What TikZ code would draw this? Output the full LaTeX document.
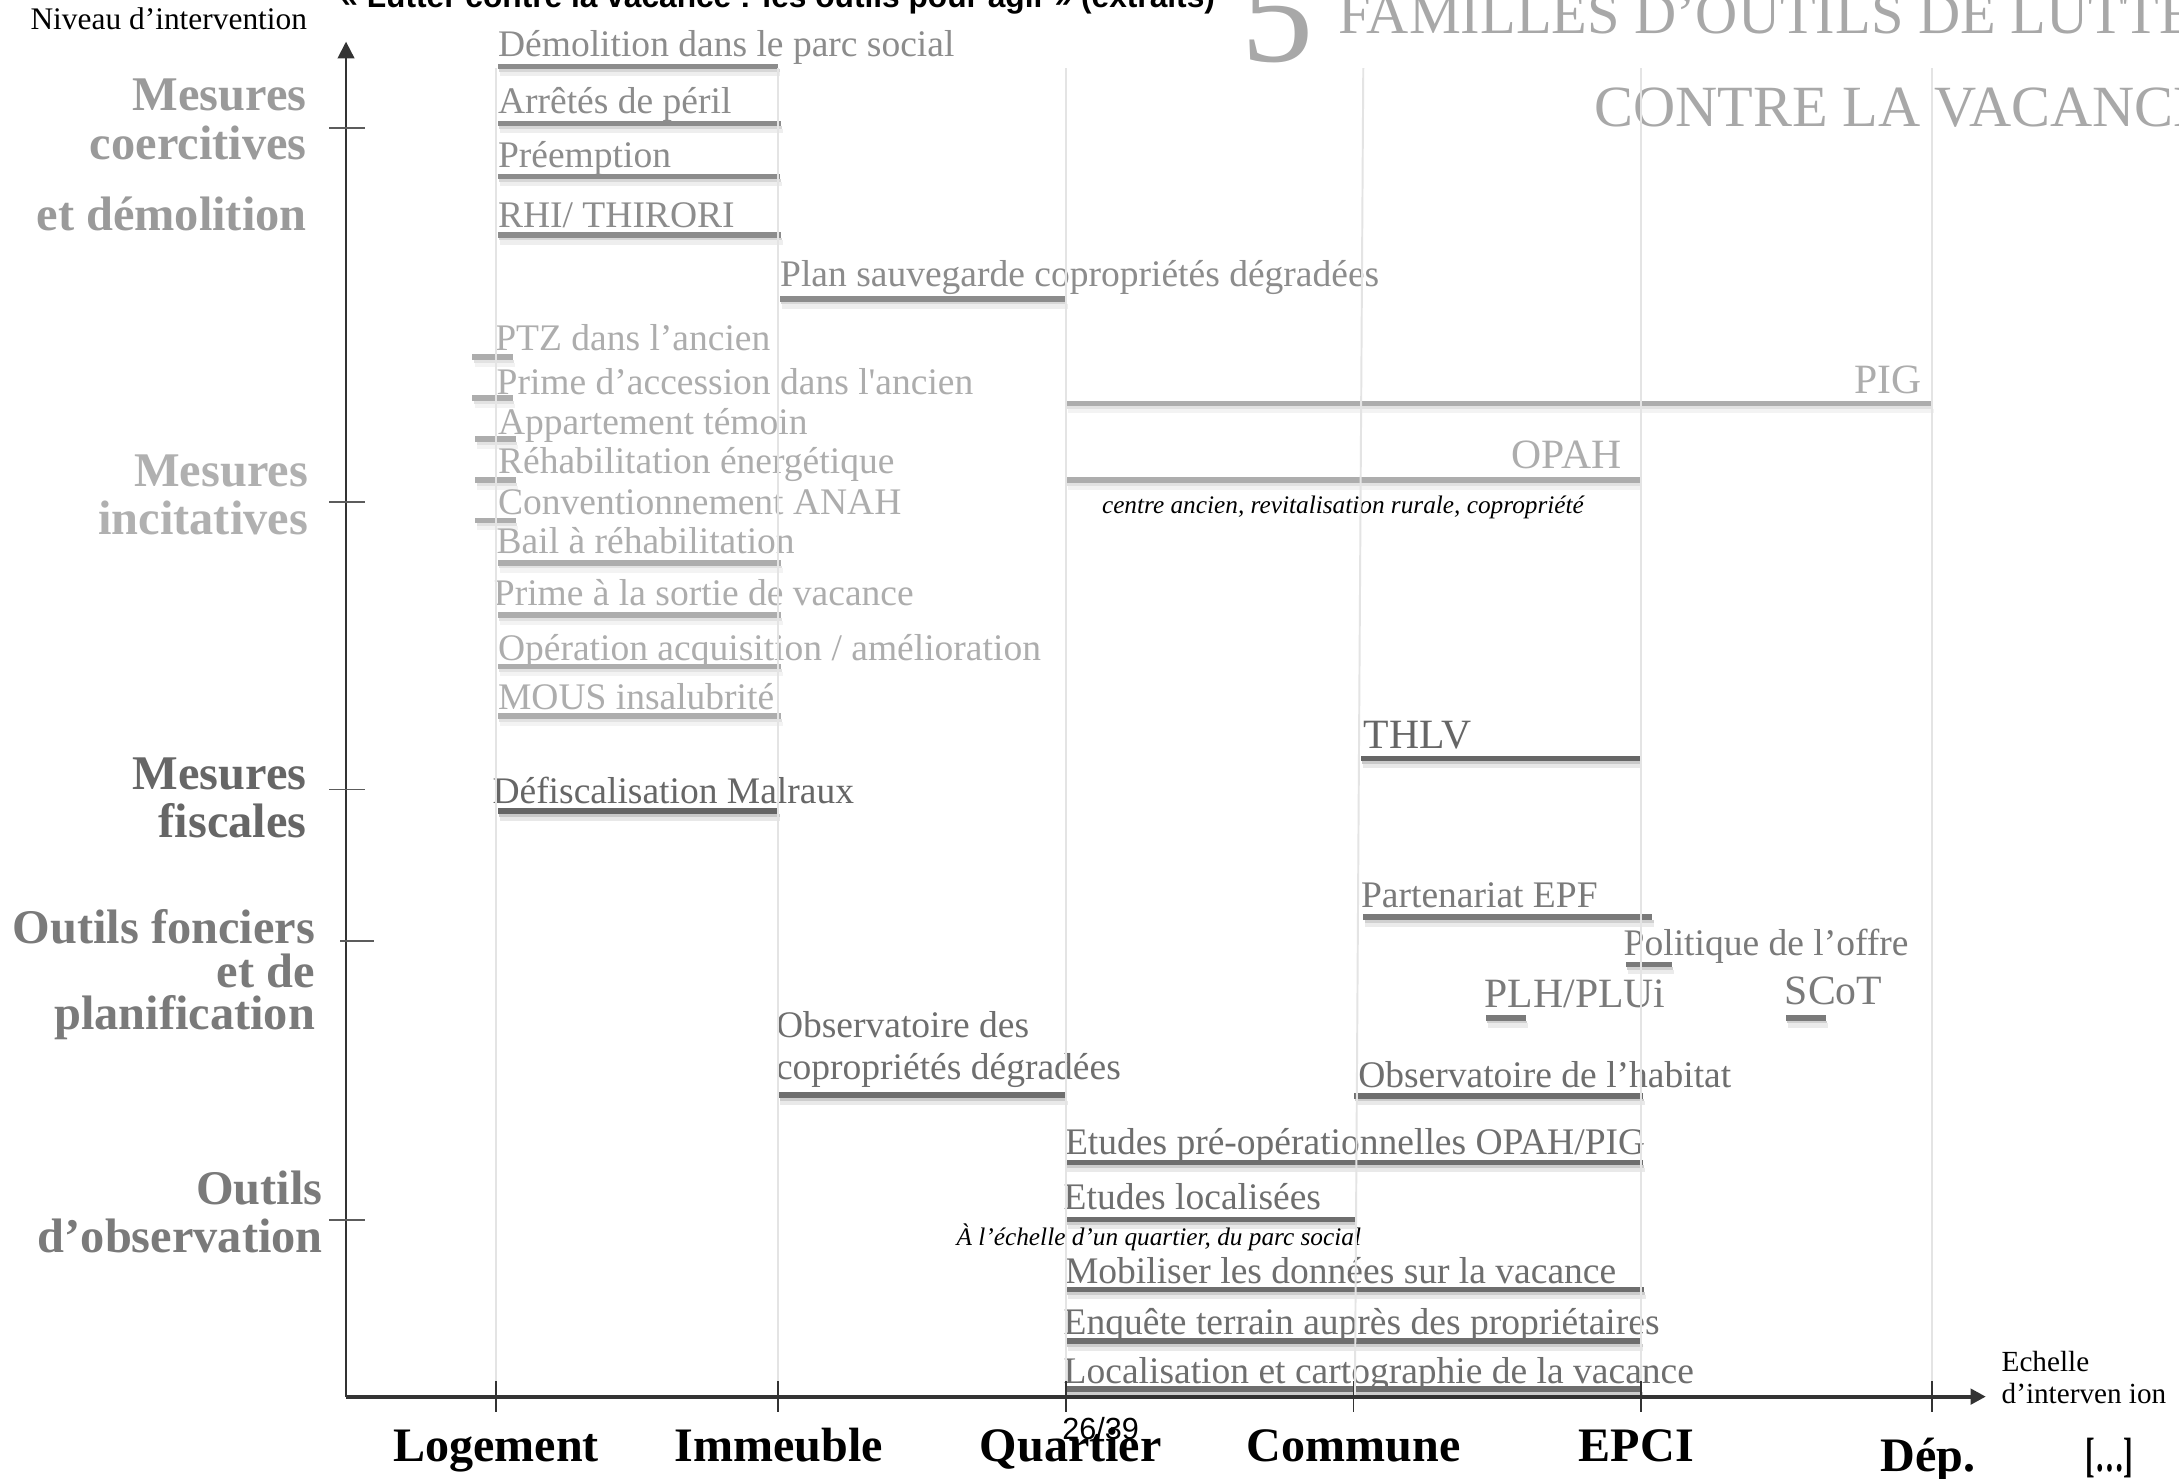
\documentclass[tikz,border=0pt]{standalone}
\usepackage{fontspec}
\usepackage{graphicx}
\setmainfont{Liberation Serif}
\newfontfamily\titrefont{Liberation Sans}
\usetikzlibrary{positioning, arrows.meta}

\definecolor{coer}{HTML}{8C8C8C}
\definecolor{coerlab}{HTML}{9A9A9A}
\definecolor{inci}{HTML}{ADADAD}
\definecolor{incilab}{HTML}{B0B0B0}
\definecolor{fisc}{HTML}{666666}
\definecolor{fonc}{HTML}{7A7A7A}
\definecolor{obs}{HTML}{6E6E6E}
\definecolor{grille}{HTML}{E4E4E4}
\definecolor{axe}{HTML}{333333}
\definecolor{titregris}{HTML}{A8A8A8}

\newcommand{\barre}[4]{%
  \fill[#1!15] (#2+1.5,#4+4) rectangle (#3+1.5,#4+7);
  \fill[#1!35] (#2+1,#4+2) rectangle (#3+1,#4+4);
  \fill[#1] (#2,#4-2) rectangle (#3,#4+2);}

\tikzset{
  outil/.style={anchor=base west, inner sep=0pt, font=\fontsize{13.5}{16}\selectfont},
  outilgrand/.style={outil, font=\fontsize{15}{18}\selectfont},
  famille/.style={anchor=base east, inner sep=0pt, font=\bfseries\fontsize{17.4}{20}\selectfont},
  niveau/.style={anchor=base, inner sep=0pt, font=\bfseries\fontsize{17.3}{20}\selectfont},
  note/.style={anchor=base west, inner sep=0pt, font=\itshape\fontsize{9.1}{11}\selectfont},
}

\begin{document}
\begin{tikzpicture}[x=0.5pt, y=-0.5pt]
\fill[white] (0,0) rectangle (1568,1064);
\useasboundingbox (0,0) rectangle (1568,1064);

% en-tete
\node[anchor=base west, inner sep=0pt, font=\titrefont\bfseries\fontsize{11.4}{13}\selectfont] (titre) at (244.6,5.5) {« Lutter contre la vacance : les outils pour agir » (extraits)};
\node[anchor=base west, inner sep=0pt, font=\fontsize{11.3}{13}\selectfont] (ordonnee) at (21.6,21.5) {Niveau d’intervention};
\node[anchor=base west, inner sep=0pt, titregris, font=\fontsize{52}{52}\selectfont] (cinq) at (893,44) {5};
\node[anchor=base west, inner sep=0pt, titregris, font=\fontsize{21}{24}\selectfont] (familles) at (963,24) {FAMILLES D’OUTILS DE LUTTE};
\node[anchor=base west, inner sep=0pt, titregris, font=\fontsize{21}{24}\selectfont] (contre) at (1147,91) {CONTRE LA VACANCE};

% barres
\barre{coer}{358}{560}{48}
\barre{coer}{358}{562}{89}
\barre{coer}{358}{561}{127}
\barre{coer}{358}{562}{169}
\barre{coer}{561}{767}{215}
\barre{inci}{340}{369}{257}
\barre{inci}{340}{369}{286.5}
\barre{inci}{342}{371}{316}
\barre{inci}{342}{371}{345.5}
\barre{inci}{342}{371}{374.5}
\barre{inci}{358}{562}{405}
\barre{inci}{358}{562}{442.6}
\barre{inci}{358}{562}{479.7}
\barre{inci}{358}{562}{515.2}
\barre{inci}{767}{1390}{290.2}
\barre{inci}{767}{1180}{345.4}
\barre{fisc}{979}{1180}{545.7}
\barre{fisc}{358}{560}{583.6}
\barre{fonc}{981}{1189}{660}
\barre{fonc}{1170}{1203}{694}
\barre{fonc}{1069}{1098}{732.5}
\barre{fonc}{1285}{1314}{732.5}
\barre{obs}{560}{767}{788}
\barre{obs}{974}{1182}{788.5}
\barre{obs}{766}{1182}{836.5}
\barre{obs}{767}{975}{877.5}
\barre{obs}{767}{1183}{928}
\barre{obs}{767}{1181}{965}
\barre{obs}{767}{1181}{999.5}

% familles d'outils
\node[famille, coerlab] (coer1) at (221,79.8) {Mesures};
\node[famille, coerlab] (coer2) at (221,114.5) {coercitives};
\node[famille, coerlab] (coer3) at (221,166) {et démolition};
\node[famille, incilab] (inci1) at (222,350) {Mesures};
\node[famille, incilab] (inci2) at (222,384.8) {incitatives};
\node[famille, fisc] (fisc1) at (221,568) {Mesures};
\node[famille, fisc] (fisc2) at (221,602.4) {fiscales};
\node[famille, fonc] (fonc1) at (227,679) {Outils fonciers};
\node[famille, fonc] (fonc2) at (227,710.7) {et de};
\node[famille, fonc] (fonc3) at (227,741) {planification};
\node[famille, fonc] (obs1) at (232.6,866.5) {Outils};
\node[famille, fonc] (obs2) at (232.6,901) {d’observation};

% mesures coercitives
\node[outil, coer] (demol) at (358,40.5) {Démolition dans le parc social};
\node[outil, coer] (peril) at (358,81.5) {Arrêtés de péril};
\node[outil, coer] (preempt) at (358,120.5) {Préemption};
\node[outil, coer] (rhi) at (358,164) {RHI/ THIRORI};
\node[outil, coer] (psauv) at (561,206) {Plan sauvegarde copropriétés dégradées};

% mesures incitatives
\node[outil, inci] (ptz) at (356,252) {PTZ dans l’ancien};
\node[outil, inci] (primeacc) at (357,284) {Prime d’accession dans l\textquotesingle ancien};
\node[outil, inci] (appart) at (358,312.5) {Appartement témoin};
\node[outil, inci] (rehab) at (358,341) {Réhabilitation énergétique};
\node[outil, inci] (conv) at (358,370.5) {Conventionnement ANAH};
\node[outil, inci] (bail) at (357,398.5) {Bail à réhabilitation};
\node[outil, inci] (sortie) at (355,435.5) {Prime à la sortie de vacance};
\node[outil, inci] (acqui) at (358,475) {Opération acquisition / amélioration};
\node[outil, inci] (mous) at (358,510.5) {MOUS insalubrité};
\node[outilgrand, inci, anchor=base east] (pig) at (1383,283) {PIG};
\node[outilgrand, inci, anchor=base east] (opah) at (1167,337) {OPAH};
\node[note] (opahnote) at (792.6,369.5) {centre ancien, revitalisation rurale, copropriété};

% mesures fiscales
\node[outilgrand, fisc] (thlv) at (981,538.5) {THLV};
\node[outil, fisc] (malraux) at (354,578.5) {Défiscalisation Malraux};

% outils fonciers et de planification
\node[outil, fonc] (epf) at (979,653) {Partenariat EPF};
\node[outil, fonc] (offre) at (1168,687.5) {Politique de l’offre};
\node[outilgrand, fonc] (plh) at (1068,725) {PLH/PLUi};
\node[outilgrand, fonc] (scot) at (1284,722.5) {SCoT};

% outils d'observation
\node[outil, obs] (obscop1) at (558,746.5) {Observatoire des};
\node[outil, obs] (obscop2) at (558,776.5) {copropriétés dégradées};
\node[outil, obs] (obshab) at (977,782.5) {Observatoire de l’habitat};
\node[outil, obs] (etudes) at (766,830.5) {Etudes pré-opérationnelles OPAH/PIG};
\node[outil, obs] (local) at (765,870.5) {Etudes localisées};
\node[note] (localnote) at (688,896) {À l’échelle d’un quartier, du parc social};
\node[outil, obs] (mobil) at (766,923.5) {Mobiliser les données sur la vacance};
\node[outil, obs] (enquete) at (765,960.5) {Enquête terrain auprès des propriétaires};
\node[outil, obs] (cartog) at (765,995.5) {Localisation et cartographie de la vacance};

% grille
\foreach \gx in {357,560,767,1181,1390}
  \draw[grille, line width=0.7pt] (\gx,49) -- (\gx,1004);
\draw[grille, line width=0.7pt] (981,49) -- (975,1004);

% axes
\coordinate (O) at (249,1005);
\coordinate (xfin) at (1429,1005);
\coordinate (yfin) at (249,30);
\draw[axe, line width=1.4pt, -{Triangle[length=5.5pt,width=5.5pt]}] (O) -- (xfin);
\draw[axe, line width=0.7pt, -{Triangle[length=6pt,width=6pt]}] (O) -- (yfin);
\foreach \gx in {357,560,767,974,1181,1390}
  \draw[axe, line width=0.6pt] (\gx,994) -- (\gx,1016);
\foreach \gy in {92,361,568,878}
  \draw[axe!80, line width=0.6pt] (237,\gy) -- (263,\gy);
\draw[axe!80, line width=0.6pt] (245,677) -- (269,677);

% echelles
\node[niveau] (logement) at (357,1052) {Logement};
\node[niveau] (immeuble) at (560.5,1052) {Immeuble};
\node[niveau] (quartier) at (770.5,1052) {Quartier};
\node[niveau] (commune) at (974,1052) {Commune};
\node[niveau] (epci) at (1177.5,1052) {EPCI};
\node[niveau] (dep) at (1387.5,1059) {Dép.};
\node[niveau] (etc) at (1518,1059) {\scalebox{0.6}[1]{[…]}};
\node[anchor=base west, inner sep=0pt, font=\fontsize{10.5}{12}\selectfont] (abs1) at (1440,987) {Echelle};
\node[anchor=base west, inner sep=0pt, font=\fontsize{10.5}{12}\selectfont] (abs2) at (1440,1010) {d’interven ion};
\node[anchor=base, inner sep=0pt, font=\titrefont\fontsize{11}{13}\selectfont] (page) at (792,1036) {26/39};
\end{tikzpicture}
\end{document}
